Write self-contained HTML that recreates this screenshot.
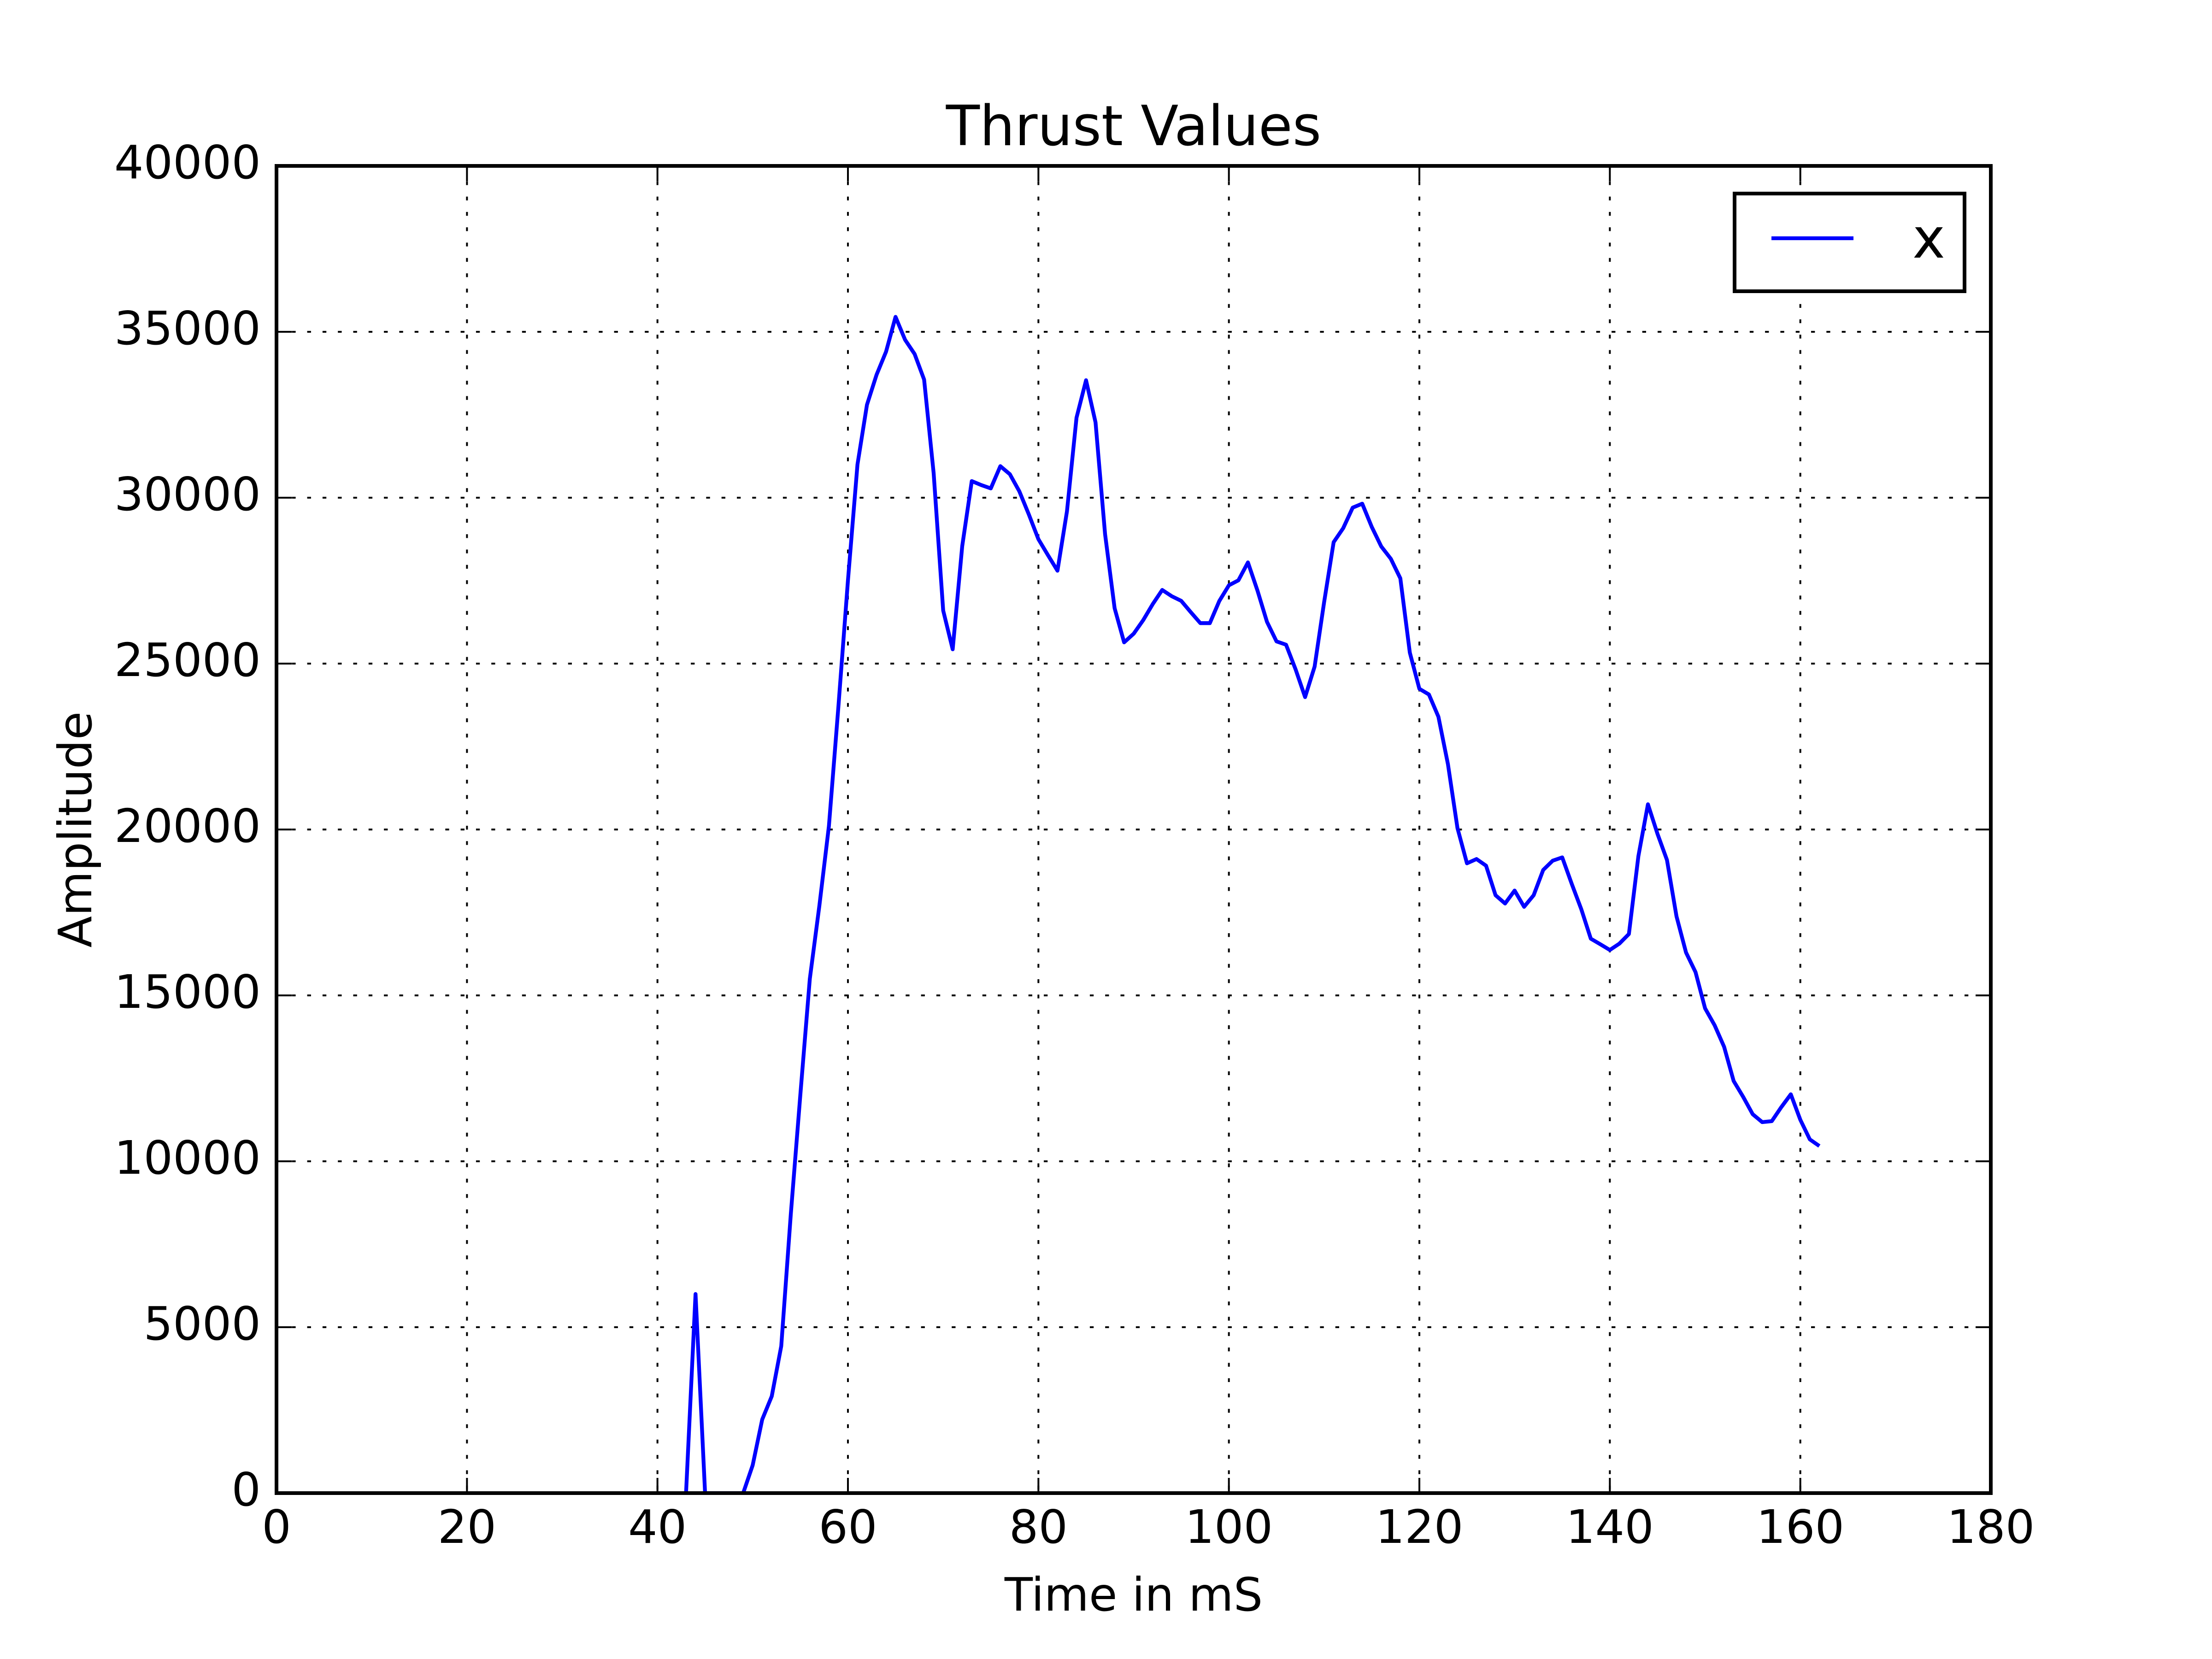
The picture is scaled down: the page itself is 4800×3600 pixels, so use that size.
<!DOCTYPE html>
<html><head><meta charset="utf-8"><style>
html,body{margin:0;padding:0;background:#fff;}
svg{display:block;}
text{font-family:"DejaVu Sans","Liberation Sans",sans-serif;fill:#000;}
</style></head><body>
<svg id="chart" width="4800" height="3600" viewBox="0 0 4800 3600" xmlns="http://www.w3.org/2000/svg">
<rect x="0" y="0" width="4800" height="3600" fill="#fff"/>
<g id="grid"></g>
<g id="ticks"></g>
<g id="series"></g>
<rect x="600" y="360" width="3720" height="2880" fill="none" stroke="#000" stroke-width="8"/>
<g id="xlabels"></g>
<g id="ylabels"></g>
<text x="2460" y="315" font-size="120" text-anchor="middle">Thrust Values</text>
<text x="2460" y="3495" font-size="100" text-anchor="middle">Time in mS</text>
<text x="0" y="0" font-size="100" text-anchor="middle" transform="translate(198,1800) rotate(-90)">Amplitude</text>
<g>
<rect x="3764" y="420" width="499" height="212" fill="#fff" stroke="#000" stroke-width="8"/>
<line x1="3844" y1="517" x2="4022" y2="517" stroke="#0000ff" stroke-width="8.3"/>
<text x="4150" y="559" font-size="120">x</text>
</g>
</svg>
<script>
const xTicks = [0,20,40,60,80,100,120,140,160,180];
const yTicks = [0,5000,10000,15000,20000,25000,30000,35000,40000];
const times = [43,44,45,46,47,48,49,50,51,52,53,54,55,56,57,58,59,60,61,62,63,64,65,66,67,68,69,70,71,72,73,74,75,76,77,78,79,80,81,82,83,84,85,86,87,88,89,90,91,92,93,94,95,96,97,98,99,100,101,102,103,104,105,106,107,108,109,110,111,112,113,114,115,116,117,118,119,120,121,122,123,124,125,126,127,128,129,130,131,132,133,134,135,136,137,138,139,140,141,142,143,144,145,146,147,148,149,150,151,152,153,154,155,156,157,158,159,160,161,162];
const thrust = [0,6000,0,0,0,0,0,840,2220,2920,4430,8400,12000,15500,17700,20100,23700,27500,31000,32800,33700,34400,35450,34760,34330,33560,30740,26600,25430,28540,30500,30380,30280,30950,30710,30190,29490,28750,28270,27800,29590,32410,33540,32270,28900,26670,25640,25900,26310,26790,27220,27030,26890,26550,26220,26220,26890,27360,27510,28050,27200,26260,25670,25570,24830,23990,24910,26850,28660,29080,29700,29820,29120,28530,28160,27570,25330,24240,24070,23400,21970,20040,18980,19110,18910,18020,17770,18160,17670,18020,18780,19060,19160,18360,17600,16710,16540,16370,16560,16850,19200,20760,19870,19080,17380,16290,15700,14610,14100,13450,12420,11940,11420,11180,11210,11630,12020,11250,10660,10460];

const NS='http://www.w3.org/2000/svg';
const X0=600,X1=4320,Y0=3240,Y1=360;
function sx(t){return X0+(t-0)/(180-0)*(X1-X0);}
function sy(v){return Y0-(v-0)/(40000-0)*(Y0-Y1);}
function mk(tag,attrs,parent){const e=document.createElementNS(NS,tag);for(const k in attrs)e.setAttribute(k,attrs[k]);parent.appendChild(e);return e;}
const grid=document.getElementById('grid'),ticks=document.getElementById('ticks');
const xl=document.getElementById('xlabels'),yl=document.getElementById('ylabels');
xTicks.forEach(t=>{
  const x=sx(t);
  const g=mk('line',{x1:x,y1:Y1,x2:x,y2:Y0,stroke:'#000','stroke-width':4,'stroke-dasharray':'8.3 25'},grid);
  
  
  const a=mk('line',{x1:x,y1:Y0,x2:x,y2:Y0-33,stroke:'#000','stroke-width':4},ticks);
  
  
  const b=mk('line',{x1:x,y1:Y1,x2:x,y2:Y1+33,stroke:'#000','stroke-width':4},ticks);
  
  
  const tx=mk('text',{x:x,y:3348,'font-size':100,'text-anchor':'middle'},xl);
  tx.textContent=String(t);
  
  
});
yTicks.forEach(v=>{
  const y=sy(v);
  const g=mk('line',{x1:X0,y1:y,x2:X1,y2:y,stroke:'#000','stroke-width':4,'stroke-dasharray':'8.3 25'},grid);
  
  
  const a=mk('line',{x1:X0,y1:y,x2:X0+33,y2:y,stroke:'#000','stroke-width':4},ticks);
  
  
  const b=mk('line',{x1:X1,y1:y,x2:X1-33,y2:y,stroke:'#000','stroke-width':4},ticks);
  
  
  const tx=mk('text',{x:566,y:y+27,'font-size':100,'text-anchor':'end'},yl);
  tx.textContent=String(v);
  
  
});
const pts=times.map((t,i)=>sx(t).toFixed(1)+','+sy(thrust[i]).toFixed(1)).join(' ');
const cp=mk('clipPath',{id:'clip'},document.getElementById('chart'));
mk('rect',{x:X0,y:Y1,width:X1-X0,height:Y0-Y1},cp);
const pl=mk('polyline',{points:pts,fill:'none',stroke:'#0000ff','stroke-width':8.3,'stroke-linejoin':'round','clip-path':'url(#clip)'},document.getElementById('series'));


</script>
</body></html>
